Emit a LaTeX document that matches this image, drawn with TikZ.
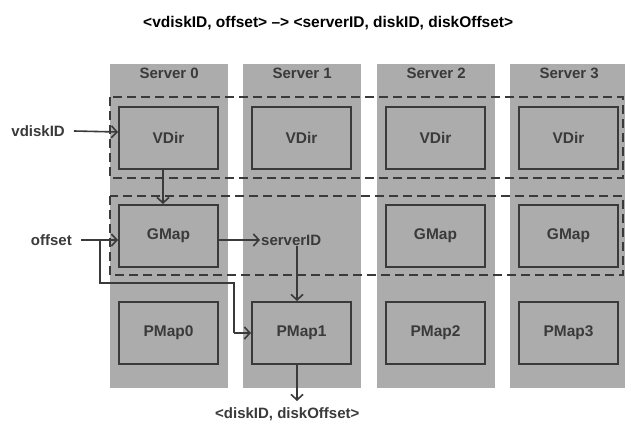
\documentclass[tikz,border=0pt]{standalone}
\usepackage{fontspec}
\setmainfont{Liberation Sans}
\usetikzlibrary{arrows.meta,positioning}

\definecolor{srvgray}{RGB}{172,172,172}
\definecolor{inkgray}{RGB}{58,58,58}

\tikzset{
    server/.style={fill=srvgray, anchor=north west, inner sep=0pt,
        minimum width=118pt, minimum height=324pt},
    mapbox/.style={draw=inkgray, line width=2pt, inner sep=0pt,
        minimum width=99pt, minimum height=62pt,
        text=inkgray, font=\bfseries\fontsize{15.5}{17}\selectfont},
    group/.style={draw=inkgray, line width=2pt, dash pattern=on 9pt off 5pt},
    flow/.style={draw=inkgray, line width=1.6pt,
        -{Straight Barb[length=5.5pt, width=12pt, line width=1.6pt]}},
    wire/.style={draw=inkgray, line width=1.6pt},
    lbl/.style={text=inkgray, inner sep=1pt, font=\bfseries\fontsize{15}{17}\selectfont}
}

\begin{document}
\begin{tikzpicture}[x=1pt, y=-1pt]
    \useasboundingbox (0,0) rectangle (625,428);

    % Title
    \node[lbl, text=black, anchor=west, font=\bfseries\fontsize{15.5}{17}\selectfont] (title) at (142,23) {<vdiskID, offset> \textendash> <serverID, diskID, diskOffset>};

    % Server columns
    \foreach \i/\x in {0/110,1/243,2/377,3/510} {
        \node[server] (srv\i) at (\x,64) {};
        \node[lbl, below=3pt of srv\i.north] (head\i) {Server \i};
    }

    % Row groups
    \draw[group] (110,97) rectangle (623,178);
    \draw[group] (110,196) rectangle (623,275);

    % VDir and PMap in every column
    \foreach \i/\x in {0/168.5,1/301.5,2/435.5,3/568.5} {
        \node[mapbox] (vdir\i) at (\x,138) {VDir};
        \node[mapbox] (pmap\i) at (\x,333) {PMap\i};
    }

    % GMap (not in server 1)
    \foreach \i/\x in {0/168.5,2/435.5,3/568.5} {
        \node[mapbox] (gmap\i) at (\x,236) {GMap};
    }

    % Inputs
    \node[lbl, anchor=east] (vdiskid) at (66,131) {vdiskID};
    \node[lbl, anchor=east] (offset) at (73,240) {offset};
    \node[lbl, anchor=west] (serverid) at (260,240) {serverID};

    \draw[flow] ([xshift=8pt]vdiskid.east) -- ([yshift=6pt]vdir0.west);
    \draw[flow] (vdir0.south -| 163,0) -- (gmap0.north -| 163,0);
    \draw[flow] ([xshift=8pt]offset.east) -- ([yshift=-4pt]gmap0.west);
    \draw[flow] ([yshift=-4pt]gmap0.east) -- (serverid.west);

    % offset goes on to PMap1
    \coordinate (split) at (100,240);
    \coordinate (bendA) at (100,283);
    \coordinate (bendB) at (234,283);
    \draw[wire] (split) -- (bendA) -- (bendB) -- (bendB |- pmap1.west);
    \draw[flow] (bendB |- pmap1.west) -- (pmap1.west);

    % serverID selects PMap1
    \draw[flow] (serverid.south -| 297,0) -- (pmap1.north -| 297,0);

    % Output
    \coordinate (out) at (297,401);
    \draw[flow] (pmap1.south -| out) -- (out);
    \node[lbl, anchor=west] (result) at (214,414) {<diskID, diskOffset>};
\end{tikzpicture}
\end{document}
